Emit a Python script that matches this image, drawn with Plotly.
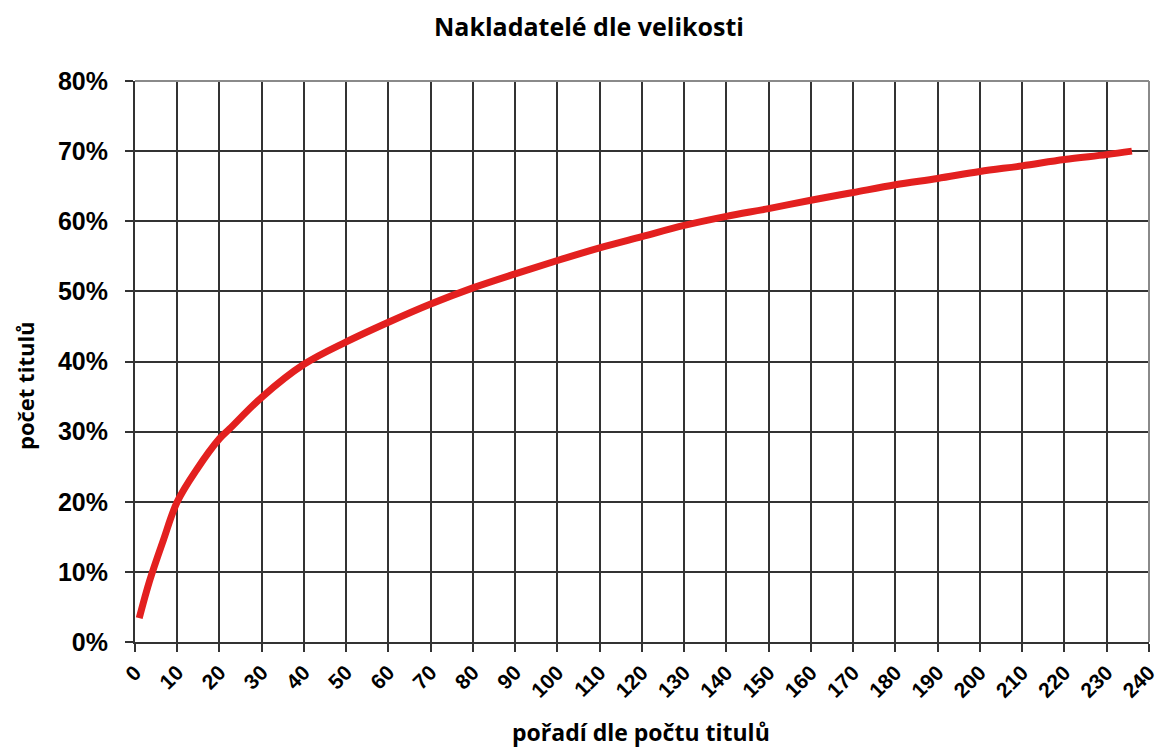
import plotly.graph_objects as go

# Data
rank = [1, 3.5, 6.7, 10, 14.5, 20, 22.4, 30, 40, 50, 60, 70, 80, 90, 100, 110, 120,
        130, 140, 150, 160, 170, 180, 190, 200, 210, 220, 230, 236]
share = [0.034, 0.088, 0.145, 0.200, 0.245, 0.290, 0.304, 0.349, 0.396, 0.428, 0.456,
         0.482, 0.505, 0.525, 0.544, 0.562, 0.578, 0.594, 0.607, 0.618, 0.630, 0.641,
         0.652, 0.661, 0.671, 0.679, 0.688, 0.695, 0.700]

x_ticks = list(range(0, 250, 10))
y_ticks = [i / 10 for i in range(0, 9)]

title_text = "Nakladatelé dle velikosti"
x_title = "pořadí dle počtu titulů"
y_title = "počet titulů"

grid_color = "#333333"
frame_color = "#8a8a8a"

fig = go.Figure()
fig.add_trace(go.Scatter(
    x=rank, y=share, mode="lines",
    line=dict(color="#e3201f", width=7, shape="spline"),
    showlegend=False, hoverinfo="skip",
))

fig.update_layout(
    width=1161, height=749,
    paper_bgcolor="white", plot_bgcolor="white",
    margin=dict(l=135, r=12, t=81, b=107, autoexpand=False),
    title=dict(text=f"<b>{title_text}</b>", x=589 / 1161, xanchor="center",
               y=1 - 27 / 749, yanchor="middle",
               font=dict(family="Open Sans", size=25, color="black")),
    annotations=[
        dict(text=f"<b>{x_title}</b>", xref="paper", yref="paper",
             x=(641 - 135) / 1014, y=-(732 - 642) / 561, xanchor="center", yanchor="middle",
             showarrow=False, font=dict(family="Open Sans", size=23, color="black")),
        dict(text=f"<b>{y_title}</b>", xref="paper", yref="paper",
             x=-(135 - 25) / 1014, y=(642 - 386) / 561, xanchor="center", yanchor="middle",
             textangle=-90, showarrow=False,
             font=dict(family="Open Sans", size=22, color="black")),
    ],
)

fig.update_xaxes(
    range=[0, 240.05], tickvals=x_ticks, ticktext=[str(v) for v in x_ticks],
    tickangle=-45, ticks="outside", ticklen=8, tickwidth=2, tickcolor=grid_color,
    showgrid=True, gridcolor=grid_color, gridwidth=1.6,
    showline=True, linecolor=grid_color, linewidth=2, mirror=False,
    zeroline=False, automargin=False, ticklabeloverflow="allow",
    tickfont=dict(family="Liberation Sans", size=21, color="black", weight="bold"),
)
fig.update_yaxes(
    range=[0, 0.8], tickvals=y_ticks, tickformat=".0%",
    ticks="outside", ticklen=8, tickwidth=2, tickcolor=grid_color,
    showgrid=True, gridcolor=grid_color, gridwidth=1.6,
    showline=True, linecolor=grid_color, linewidth=2, mirror=False,
    zeroline=False, automargin=False, ticklabelstandoff=12, ticklabeloverflow="allow",
    tickfont=dict(family="Liberation Sans", size=25, color="black", weight="bold"),
)

# gray frame on top and right, as in the reference
fig.add_shape(type="line", xref="paper", yref="paper", x0=0, x1=1, y0=1, y1=1,
              line=dict(color=frame_color, width=2), layer="above")
fig.add_shape(type="line", xref="paper", yref="paper", x0=1, x1=1, y0=0, y1=1,
              line=dict(color=frame_color, width=2), layer="above")

fig.write_html("out.html", config={"displayModeBar": False},
               post_script="document.body.style.margin='0';")
